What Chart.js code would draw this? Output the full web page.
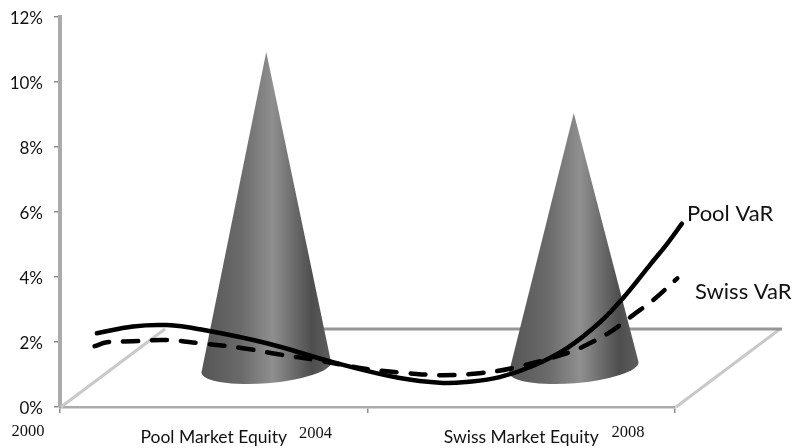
<!DOCTYPE html>
<html>
<head>
<meta charset="utf-8">
<title>Pool and Swiss VaR with market equity</title>
<style>
  html, body { margin: 0; padding: 0; background: #ffffff; }
  #wrap { width: 795px; height: 448px; }
</style>
<script src="https://cdn.jsdelivr.net/npm/chart.js@4/dist/chart.umd.min.js"></script>
</head>
<body>
<div id="wrap"><canvas id="chart" width="795" height="448"></canvas></div>
<script>
// Market equity shares, plotted as cones at mid-period.
const equityYears = [2002, 2006];
const equityNames = ["Pool Market Equity", "Swiss Market Equity"];
const equityValues = [9.72, 7.85];

// Value-at-Risk curves (year, percent).
const poolYears = [2000.48, 2000.95, 2001.39, 2001.82, 2002.69, 2003.55, 2004.42, 2004.98, 2005.29, 2005.72, 2006.15, 2006.6, 2007.02, 2007.32, 2007.67, 2007.9, 2008.09];
const poolVaR = [2.27, 2.48, 2.52, 2.39, 1.96, 1.38, 0.89, 0.74, 0.77, 0.92, 1.26, 1.82, 2.6, 3.34, 4.36, 5.03, 5.64];
const swissYears = [2000.45, 2000.61, 2000.95, 2001.39, 2001.82, 2002.38, 2002.82, 2003.34, 2003.99, 2004.25, 2004.51, 2004.98, 2005.46, 2005.89, 2006.6, 2006.89, 2007.19, 2007.45, 2007.71, 2008.03];
const swissVaR = [1.87, 1.99, 2.02, 2.06, 1.96, 1.81, 1.63, 1.44, 1.17, 1.10, 1.04, 0.98, 1.04, 1.20, 1.66, 1.96, 2.36, 2.82, 3.28, 3.96];

const yearTicks = [2000, 2004, 2008];
const yearLabels = ["2000", "2004", "2008"];
const percentTicks = [0, 2, 4, 6, 8, 10, 12];
const seriesNames = ["Pool VaR", "Swiss VaR"];

const zipPoints = (xs, ys) => xs.map((x, i) => ({ x, y: ys[i] }));

// Depth of the 3D floor, in pixels, and the share of it where the cones stand.
const FLOOR_DX = 105, FLOOR_DY = 78, CONE_DX = 52.5, CONE_DY = 39;
const AXIS_GRAY = "#ababab";
const TICK_GRAY = "#8c8c8c";

// A bar whose shape is a shaded cone standing on the floor.
class ConeElement extends Chart.BarElement {
  draw(ctx) {
    const { x, y, base, width } = this.getProps(["x", "y", "base", "width"]);
    const cx = x + CONE_DX, apex = y - CONE_DY, by = base - CONE_DY, rx = width / 2, ry = 16;
    const g = ctx.createLinearGradient(cx - rx, 0, cx + rx, 0);
    g.addColorStop(0, "#555555");
    g.addColorStop(0.3, "#6a6a6a");
    g.addColorStop(0.55, "#8f8f8f");
    g.addColorStop(0.85, "#4e4e4e");
    g.addColorStop(1, "#5e5e5e");
    ctx.save();
    ctx.fillStyle = g;
    ctx.beginPath();
    ctx.moveTo(cx, apex);
    ctx.ellipse(cx, by, rx, ry, -0.08, 0, Math.PI);
    ctx.closePath();
    ctx.fill();
    ctx.restore();
  }
}
ConeElement.id = "cone";
ConeElement.defaults = Chart.BarElement.defaults;
ConeElement.defaultRoutes = Chart.BarElement.defaultRoutes;

class ConeController extends Chart.BarController {}
ConeController.id = "cone";
ConeController.defaults = Object.assign({}, Chart.BarController.defaults, { dataElementType: "cone" });
ConeController.overrides = Chart.BarController.overrides;
Chart.register(ConeElement, ConeController);

// Floor outline behind the marks.
const floorPlugin = {
  id: "floor",
  beforeDatasetsDraw(chart) {
    const { ctx, scales: { x, y } } = chart;
    const y0 = y.getPixelForValue(0), left = x.left, right = x.right;
    const backY = y0 - FLOOR_DY;
    ctx.save();
    ctx.lineCap = "butt";
    ctx.strokeStyle = "#c9c9c9";
    ctx.lineWidth = 3;
    [left, right].forEach((px) => {
      ctx.beginPath();
      ctx.moveTo(px + 1, y0);
      ctx.lineTo(px + FLOOR_DX, backY);
      ctx.stroke();
    });
    ctx.strokeStyle = "#969696";
    ctx.beginPath();
    ctx.moveTo(x.getPixelForValue(equityYears[0]) + CONE_DX, backY);
    ctx.lineTo(right + FLOOR_DX + 2, backY);
    ctx.stroke();
    ctx.restore();
  }
};

// Year captions, cone captions and series captions.
const captionPlugin = {
  id: "captions",
  afterDraw(chart) {
    const { ctx, scales: { x } } = chart;
    ctx.save();
    ctx.fillStyle = "#111111";
    ctx.textBaseline = "middle";
    ctx.textAlign = "center";

    ctx.font = '16.5px "Liberation Serif"';
    const yearShift = [-32, -52, -47], yearY = [432, 434, 433];
    yearLabels.forEach((t, i) => ctx.fillText(t, x.getPixelForValue(yearTicks[i]) + yearShift[i], yearY[i]));

    ctx.font = '17.5px Lato';
    equityNames.forEach((t, i) => ctx.fillText(t, x.getPixelForValue(equityYears[i]), 437));

    ctx.textAlign = "left";
    ctx.font = '22px Lato';
    ctx.fillText(seriesNames[0], 687, 214);
    ctx.fillText(seriesNames[1], 695, 292);
    ctx.restore();
  }
};

new Chart(document.getElementById("chart"), {
  data: {
    datasets: [
      {
        type: "line", label: seriesNames[0], data: zipPoints(poolYears, poolVaR),
        borderColor: "#000000", borderWidth: 4.5, pointRadius: 0, tension: 0.4,
        borderCapStyle: "round", clip: false, order: 1
      },
      {
        type: "line", label: seriesNames[1], data: zipPoints(swissYears, swissVaR),
        borderColor: "#000000", borderWidth: 4.5, borderDash: [15, 14], pointRadius: 0, tension: 0.4,
        borderCapStyle: "round", clip: false, order: 1
      },
      {
        type: "cone", label: "Market equity", data: zipPoints(equityYears, equityValues),
        barThickness: 130, clip: false, order: 2
      }
    ]
  },
  options: {
    responsive: false,
    animation: false,
    layout: { autoPadding: false, padding: { top: 17, right: 120, left: 0, bottom: 0 } },
    plugins: { legend: { display: false }, tooltip: { enabled: false }, title: { display: false } },
    scales: {
      x: {
        type: "linear", min: 2000, max: 2008, offset: false,
        afterBuildTicks(s) { s.ticks = yearTicks.map((value) => ({ value })); },
        afterFit(s) { s.height = 41; },
        ticks: { display: false },
        grid: { offset: false, drawOnChartArea: false, drawTicks: true, tickLength: 6, color: TICK_GRAY, lineWidth: 1.5 },
        border: { color: AXIS_GRAY, width: 2.5 }
      },
      y: {
        type: "linear", min: 0, max: 12,
        afterBuildTicks(s) { s.ticks = percentTicks.map((value) => ({ value })); },
        afterFit(s) { s.width = 60; s.paddingTop = 0; s.paddingBottom = 0; },
        ticks: {
          color: "#111111", padding: 11, labelOffset: 2, font: { family: "Lato", size: 17 },
          callback: (v) => v + "%"
        },
        grid: { drawOnChartArea: false, drawTicks: true, tickLength: 6, color: TICK_GRAY, lineWidth: 1.5 },
        border: { color: AXIS_GRAY, width: 4 }
      }
    }
  },
  plugins: [floorPlugin, captionPlugin]
});
</script>
</body>
</html>
